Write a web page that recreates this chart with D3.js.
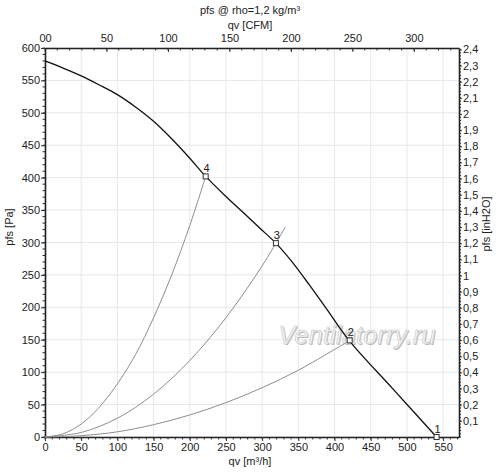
<!DOCTYPE html>
<html><head><meta charset="utf-8">
<script src="https://cdn.jsdelivr.net/npm/d3@7"></script>
<style>
body{margin:0;background:#fff;}
text{font-family:"Liberation Sans",Arial,sans-serif;}
</style></head>
<body><svg id="c" width="500" height="474"></svg>
<script>
// Main fan curve (qv m3/h, pfs Pa)
const fanQ = [0, 25, 50, 75, 100, 125, 150, 175, 200, 222, 250, 275, 297, 319, 340, 365, 390, 420, 480, 541];
const fanP = [580, 569, 557, 543, 528, 509, 487, 460, 430, 402, 371, 345, 322, 299, 272, 235, 196, 149, 75, 0];
// System curves
const sys4Q = [0, 25, 50, 75, 100, 125, 150, 175, 200, 222];
const sys4P = [0, 5, 20, 46, 82, 127, 184, 250, 326, 402];
const sys3Q = [0, 50, 100, 150, 200, 250, 300, 332];
const sys3P = [0, 7, 29, 66, 118, 184, 264, 324];
const sys2Q = [0, 50, 100, 150, 200, 250, 300, 350, 400, 421];
const sys2P = [0, 2, 8, 19, 34, 53, 76, 103, 135, 149];
// Operating points
const ptLabels = ["1", "2", "3", "4"];
const ptQ = [541, 421, 319, 222];
const ptP = [0, 149, 299, 402];
// Ticks
const bottomTicks = [0, 50, 100, 150, 200, 250, 300, 350, 400, 450, 500, 550];
const topTicks = [0, 50, 100, 150, 200, 250, 300];
const leftTicks = [0, 50, 100, 150, 200, 250, 300, 350, 400, 450, 500, 550, 600];
const rightTicks = [0.1,0.2,0.3,0.4,0.5,0.6,0.7,0.8,0.9,1,1.1,1.2,1.3,1.4,1.5,1.6,1.7,1.8,1.9,2,2.1,2.2,2.3,2.4];

const qMax = 572, pMax = 600;
const L = 45, R = 459, T = 48, B = 437;
const svg = d3.select("#c");
const x = d3.scaleLinear().domain([0, qMax]).range([L, R]);
const y = d3.scaleLinear().domain([0, pMax]).range([B, T]);
const x2 = d3.scaleLinear().domain([0, qMax / 1.699]).range([L, R]);
const y2 = d3.scaleLinear().domain([0, pMax / 249.089]).range([B, T]);

const fmtComma = d => String(+d.toFixed(1)).replace(".", ",");

// grid
const g = svg.append("g");
bottomTicks.forEach(t => g.append("line").attr("x1", x(t)).attr("x2", x(t)).attr("y1", T).attr("y2", B).attr("stroke", "#e8e8e8").attr("stroke-width", 1));
leftTicks.forEach(t => g.append("line").attr("x1", L).attr("x2", R).attr("y1", y(t)).attr("y2", y(t)).attr("stroke", "#e8e8e8").attr("stroke-width", 1));

// watermark
svg.append("text").attr("x", 358).attr("y", 345).attr("text-anchor", "middle")
  .attr("font-size", 25).attr("font-style", "italic").attr("fill", "#b5b5b5").attr("opacity", 0.9)
  .attr("textLength", 157).text("Ventilatorry.ru");
svg.append("text").attr("x", 357).attr("y", 344).attr("text-anchor", "middle")
  .attr("font-size", 25).attr("font-style", "italic").attr("fill", "#f6f6f6")
  .attr("stroke", "#c6c6c6").attr("stroke-width", 0.6).attr("textLength", 157).text("Ventilatorry.ru");

// minor ticks
const minor = svg.append("g").attr("stroke", "#333").attr("stroke-width", 1);
d3.range(0, qMax + 0.1, 10).forEach(t => minor.append("line").attr("x1", x(t)).attr("x2", x(t)).attr("y1", B).attr("y2", B + 2.5));
d3.range(0, qMax / 1.699, 10).forEach(t => minor.append("line").attr("x1", x2(t)).attr("x2", x2(t)).attr("y1", T).attr("y2", T + 2.5));
d3.range(0, pMax + 0.1, 10).forEach(t => minor.append("line").attr("x1", L).attr("x2", L - 2.5).attr("y1", y(t)).attr("y2", y(t)));
d3.range(0, 2.41, 0.02).forEach(t => minor.append("line").attr("x1", R).attr("x2", R + 2).attr("y1", y2(t)).attr("y2", y2(t)));

// axes
const ax = (sel) => sel.call(s => s.selectAll("text").attr("font-size", 11).attr("fill", "#222").style("font-family", "Liberation Sans, Arial, sans-serif"))
  .call(s => s.selectAll(".tick line").attr("stroke", "#333"));
svg.append("g").attr("transform", `translate(0,${B})`)
  .call(d3.axisBottom(x).tickValues(bottomTicks).tickSize(4).tickPadding(2).tickSizeOuter(0)).call(ax)
  .select(".domain").attr("stroke", "#222").attr("stroke-width", 1.6);
svg.append("g").attr("transform", `translate(0,${T})`)
  .call(d3.axisTop(x2).tickValues(topTicks).tickSize(-4).tickPadding(6).tickSizeOuter(0).tickFormat(d => d === 0 ? "00" : d)).call(ax)
  .select(".domain").attr("stroke", "#222").attr("stroke-width", 1.6);
svg.append("g").attr("transform", `translate(${L},0)`)
  .call(d3.axisLeft(y).tickValues(leftTicks).tickSize(4).tickPadding(1).tickSizeOuter(0)).call(ax)
  .select(".domain").attr("stroke", "#222").attr("stroke-width", 1.6);
svg.append("g").attr("transform", `translate(${R},0)`)
  .call(d3.axisRight(y2).tickValues(rightTicks).tickSize(3).tickPadding(1).tickSizeOuter(0).tickFormat(fmtComma)).call(ax)
  .select(".domain").attr("stroke", "#222").attr("stroke-width", 1.6);

// titles
const title = (tx, ty, s, rot) => svg.append("text").attr("transform", `translate(${tx},${ty}) rotate(${rot || 0})`)
  .attr("text-anchor", "middle").attr("font-size", 11).attr("fill", "#222").text(s);
title(250, 14, "pfs @ rho=1,2 kg/m³");
title(250, 29, "qv [CFM]");
title(250, 465, "qv [m³/h]");
title(13, 227, "pfs [Pa]", -90);
title(490, 224, "pfs [inH2O]", -90);

// curves
const line = d3.line().x(d => x(d[0])).y(d => y(d[1]));
const sysCurve = (qs, ps) => svg.append("path").datum(qs.map((q, i) => [q, ps[i]]))
  .attr("d", line.curve(d3.curveCatmullRom)).attr("fill", "none").attr("stroke", "#8e8e8e").attr("stroke-width", 1);
sysCurve(sys4Q, sys4P);
sysCurve(sys3Q, sys3P);
sysCurve(sys2Q, sys2P);
svg.append("path").datum(fanQ.map((q, i) => [q, fanP[i]]))
  .attr("d", line.curve(d3.curveCatmullRom.alpha(0.5))).attr("fill", "none").attr("stroke", "#111").attr("stroke-width", 1.3);

// points
ptQ.forEach((q, i) => {
  svg.append("rect").attr("x", x(q) - 2.5).attr("y", y(ptP[i]) - 2.5).attr("width", 5).attr("height", 5)
    .attr("fill", "#fff").attr("stroke", "#333").attr("stroke-width", 1);
  svg.append("text").attr("x", x(q) + 1).attr("y", y(ptP[i]) - 4).attr("text-anchor", "middle")
    .attr("font-size", 11).attr("fill", "#222").text(ptLabels[i]);
});
</script></body></html>
